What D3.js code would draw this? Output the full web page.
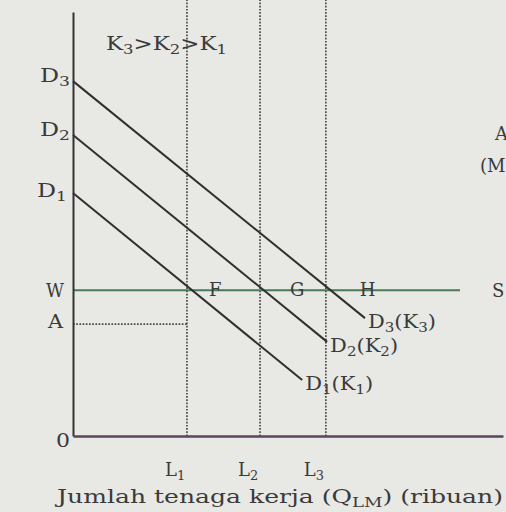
<!DOCTYPE html>
<html>
<head>
<meta charset="utf-8">
<script src="https://cdn.jsdelivr.net/npm/d3@7"></script>
<style>
  html, body { margin: 0; padding: 0; background: #e8e8e5; }
  text { font-family: "DejaVu Serif", "Liberation Serif", serif; fill: #3a3a3a; }
</style>
</head>
<body>
<div id="chart"></div>
<script>
// Chart values (wage on y, labour on x, both 0..100)
var curveNames = ["D3", "D2", "D1"];
var curveStartY = [83.7, 71.0, 57.3];
var curveEndX = [67.9, 59.1, 53.3];
var curveEndY = [27.8, 22.2, 13.2];
var curveTags = [["D", "3", "(K", "3", ")"], ["D", "2", "(K", "2", ")"], ["D", "1", "(K", "1", ")"]];
var laborLevels = [26.5, 43.5, 58.8];
var laborLabels = ["L1", "L2", "L3"];
var pointLabels = ["F", "G", "H"];
var wageW = 34.4;
var wageA = 26.4;
var supplyEndX = 90;

// Size of the svg
var width = 506;
var height = 512;

var svg = d3.select("div#chart").append("svg")
	.attr("width", width)
	.attr("height", height);

// Scales
var x = d3.scaleLinear().domain([0, 100]).range([73, 503]);
var y = d3.scaleLinear().domain([0, 100]).range([436, 12]);

// Write text with subscripts: parts alternate base, sub, base, sub...
function label(px, py, parts, size, len) {
	var t = svg.append("text")
		.attr("x", px)
		.attr("y", py)
		.style("font-size", size + "px");
	parts.forEach(function(p, i) {
		var sub = i % 2 == 1;
		t.append("tspan")
			.attr("dy", i == 0 ? 0 : (sub ? 4 : -4))
			.style("font-size", sub ? (size * 0.72) + "px" : size + "px")
			.text(p);
	});
	if (len) t.attr("textLength", len).attr("lengthAdjust", "spacingAndGlyphs");
	return t;
}

// Vertical dotted lines at L1, L2, L3
svg.append("g")
	.selectAll("line")
	.data(laborLevels)
	.enter().append("line")
	.attr("x1", d => x(d))
	.attr("x2", d => x(d))
	.attr("y1", y(103))
	.attr("y2", y(0))
	.attr("stroke", "#4a4a4a")
	.attr("stroke-width", 1.7)
	.attr("stroke-dasharray", "1.7,1.5");

// Dotted line from A to L1
svg.append("line")
	.attr("x1", x(0))
	.attr("x2", x(laborLevels[0]))
	.attr("y1", y(wageA))
	.attr("y2", y(wageA))
	.attr("stroke", "#4a4a4a")
	.attr("stroke-width", 1.7)
	.attr("stroke-dasharray", "1.7,1.5");

// Supply line at W
svg.append("line")
	.attr("x1", x(0))
	.attr("x2", x(supplyEndX))
	.attr("y1", y(wageW))
	.attr("y2", y(wageW))
	.attr("stroke", "#4a7a57")
	.attr("stroke-width", 2);

// Demand lines
svg.append("g")
	.selectAll("line")
	.data(curveNames)
	.enter().append("line")
	.attr("x1", x(0))
	.attr("y1", (d, i) => y(curveStartY[i]))
	.attr("x2", (d, i) => x(curveEndX[i]))
	.attr("y2", (d, i) => y(curveEndY[i]))
	.attr("stroke", "#2f2f2f")
	.attr("stroke-width", 2);

// Axes (lines only)
svg.append("g")
	.attr("transform", "translate(" + x(0) + ",0)")
	.call(d3.axisLeft(y).tickValues([]).tickSizeOuter(0))
	.select(".domain").attr("stroke", "#333").attr("stroke-width", 2);

svg.append("g")
	.attr("transform", "translate(0," + y(0) + ")")
	.call(d3.axisBottom(x).tickValues([]).tickSizeOuter(0))
	.select(".domain").attr("stroke", "#5a4560").attr("stroke-width", 2.5);

// Axis letters
var size = 18;
label(40, y(curveStartY[0]) + 1, ["D", "3"], size, 30);
label(40, y(curveStartY[1]) + 1, ["D", "2"], size, 30);
label(37, y(curveStartY[2]) + 4, ["D", "1"], size, 30);
label(46, y(wageW) + 7, ["W"], size, 18);
label(48, y(wageA) + 4, ["A"], size, 15);
label(56, y(0) + 11, ["0"], size, 14);

// Curve tags at line ends
curveTags.forEach(function(p, i) {
	label(x(curveEndX[i]) + 3, y(curveEndY[i]) + 10, p, size, 68);
});

// Points on W
var pointOffsets = [22, 30, 34];
pointLabels.forEach(function(p, i) {
	label(x(laborLevels[i]) + pointOffsets[i], y(wageW) + 6, [p], size);
});
label(492, y(wageW) + 7, ["S"], size);

// L labels
laborLevels.forEach(function(d, i) {
	label(x(d) - 22, 476, [laborLabels[i].charAt(0), laborLabels[i].charAt(1)], size);
});

// Top note
label(106, 50, ["K", "3", ">K", "2", ">K", "1"], size, 121);

// Cut off text on the right edge
label(495, 140, ["A"], size);
label(480, 172, ["(M"], size);

// Axis title
label(57, 503, ["Jumlah tenaga kerja (Q", "LM", ") (ribuan)"], 19, 446);
</script>
</body>
</html>
